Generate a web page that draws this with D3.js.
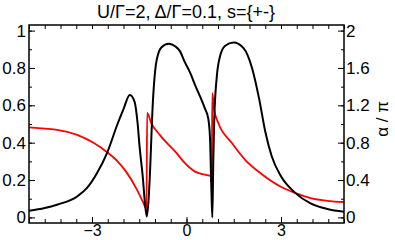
<!DOCTYPE html>
<html><head><meta charset="utf-8">
<script src="https://cdn.jsdelivr.net/npm/d3@7"></script>
<style>body{margin:0;background:#fff}svg{display:block}text{font-family:"Liberation Sans",Arial,sans-serif;fill:#000}</style>
</head><body>
<svg id="c" width="395" height="240"></svg>
<script>
const title = "U/\u0393=2, \u0394/\u0393=0.1, s={+-}";
const rightLabel = "\u03b1 / \u03c0";
const xTicks = [-3, 0, 3];
const leftTicks = [0, 0.2, 0.4, 0.6, 0.8, 1];
const rightTicks = [0, 0.4, 0.8, 1.2, 1.6, 2];
// black: spectral function (left axis)
const specX = [-5,-4.5,-4.11,-3.47,-3.15,-2.83,-2.51,-2.19,-2.0,-1.8,-1.65,-1.55,-1.49,-1.39,-1.32,-1.26,-1.21,-1.17,-1.07,-0.96,-0.8,-0.56,-0.35,-0.21,-0.05,0.1,0.27,0.58,0.69,0.745,0.79,0.82,0.85,0.88,0.96,1.06,1.22,1.49,1.81,2.08,2.3,2.5,2.7,3.0,3.46,3.94,4.47,5];
const specY = [0.035,0.05,0.068,0.112,0.159,0.24,0.35,0.5,0.58,0.655,0.62,0.5,0.38,0.22,0.08,0.005,0.08,0.2,0.61,0.83,0.91,0.93,0.915,0.89,0.83,0.78,0.71,0.585,0.53,0.43,0.15,0.0,0.3,0.52,0.75,0.86,0.918,0.936,0.906,0.8,0.64,0.46,0.33,0.22,0.13,0.075,0.045,0.03];
// red: phase alpha/pi (right axis)
const phaseX = [-5,-4.5,-4.11,-3.47,-2.94,-2.51,-2.19,-1.92,-1.6,-1.39,-1.27,-1.25,-1.12,-0.85,-0.32,-0.05,0.27,0.58,0.78,0.8,0.82,0.88,1.01,1.44,1.86,2.34,2.98,3.46,3.94,4.47,5];
const phaseY = [0.963,0.95,0.938,0.884,0.796,0.695,0.6,0.49,0.314,0.171,0.09,1.12,1.01,0.884,0.69,0.58,0.49,0.457,0.44,0.37,1.33,1.15,1.01,0.796,0.617,0.475,0.33,0.26,0.207,0.178,0.165];

const svg = d3.select("#c");
const L = 29, R = 344, T = 25, B = 223;
const x = d3.scaleLinear().domain([-5, 5]).range([L, R]);
const yL = d3.scaleLinear().domain([-0.03, 1.03]).range([B, T]);
const yR = d3.scaleLinear().domain([-0.06, 2.06]).range([B, T]);

// curves
const spec = specX.map((v, i) => [v, specY[i]]);
const phase = phaseX.map((v, i) => [v, phaseY[i]]);
const g = svg.append("g");
g.append("path").datum(phase).attr("fill", "none").attr("stroke", "#ff0000").attr("stroke-width", 1.8)
  .attr("d", d3.line().x(d => x(d[0])).y(d => yR(d[1])).curve(d3.curveMonotoneX));
g.append("path").datum(spec).attr("fill", "none").attr("stroke", "#000").attr("stroke-width", 2)
  .attr("d", d3.line().x(d => x(d[0])).y(d => yL(d[1])).curve(d3.curveMonotoneX));

// axes
const fs = "17px";
function styleAxis(sel, size) {
  sel.selectAll(".domain").remove();
  sel.selectAll("line").attr("stroke", "#000").attr("stroke-width", 1);
  sel.selectAll("text").style("font-size", size || fs);
}
const xMinor = d3.range(-5, 5.001, 0.5);
svg.append("g").attr("transform", `translate(0,${B})`)
  .call(d3.axisBottom(x).tickValues(xMinor).tickSize(-4).tickFormat(d => ""))
  .call(styleAxis);
svg.append("g").attr("transform", `translate(0,${T})`)
  .call(d3.axisTop(x).tickValues(xMinor).tickSize(-4).tickFormat(d => ""))
  .call(styleAxis);
svg.append("g").attr("transform", `translate(0,${B})`)
  .call(d3.axisBottom(x).tickValues(xTicks).tickSize(-6).tickPadding(2).tickFormat(d3.format("d")))
  .call(s => styleAxis(s, "16px"));

const lMinor = d3.range(0, 1.001, 0.1);
svg.append("g").attr("transform", `translate(${L},0)`)
  .call(d3.axisLeft(yL).tickValues(lMinor).tickSize(-3).tickFormat(d => ""))
  .call(styleAxis);
svg.append("g").attr("transform", `translate(${L},0)`)
  .call(d3.axisLeft(yL).tickValues(leftTicks).tickSize(-6).tickPadding(3).tickFormat(d => d === 0 || d === 1 ? d3.format("d")(d) : d3.format(".1f")(d)))
  .call(styleAxis);
const rMinor = d3.range(0, 2.001, 0.2);
svg.append("g").attr("transform", `translate(${R},0)`)
  .call(d3.axisRight(yR).tickValues(rMinor).tickSize(-3).tickFormat(d => ""))
  .call(styleAxis);
svg.append("g").attr("transform", `translate(${R},0)`)
  .call(d3.axisRight(yR).tickValues(rightTicks).tickSize(-6).tickPadding(2).tickFormat(d => d === 0 || d === 2 ? d3.format("d")(d) : d3.format(".1f")(d)))
  .call(styleAxis);

// frame
svg.append("rect").attr("x", L).attr("y", T).attr("width", R - L).attr("height", B - T)
  .attr("fill", "none").attr("stroke", "#000").attr("stroke-width", 1.5);

svg.append("text").attr("x", 186).attr("y", 18).attr("text-anchor", "middle").style("font-size", "18px").text(title);
svg.append("text").attr("transform", "translate(388,119) rotate(-90)").attr("text-anchor", "middle").style("font-size", fs).text(rightLabel);
</script>
</body></html>
